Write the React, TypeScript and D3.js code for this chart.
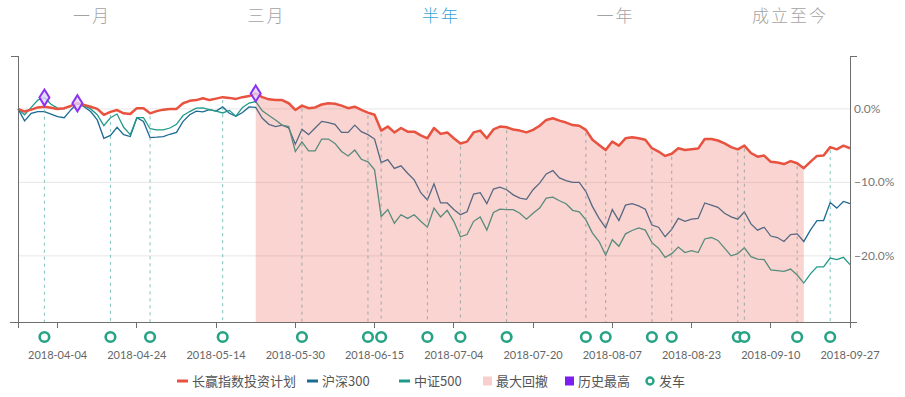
import React, { useRef, useEffect } from "react";
import * as d3 from "d3";

// trading calendar (category axis)
const startDate = "2018-03-27";
const endDate = "2018-09-27";
const holidays = ["2018-04-05", "2018-04-06", "2018-04-30", "2018-05-01", "2018-06-18", "2018-09-24"];

// cumulative return, %
const planValues = [
  0, -0.36, -0.1, 0.2, 0.3, 0.15, 0, 0.1, 0.4, 0.77,
  0.55, 0.3, 0, -0.8, -0.4, -0.15, -0.6, -0.7, 0.1, 0.1,
  -0.6, -0.3, -0.1, 0, 0, 0.77, 1.1, 1.2, 1.45, 1.2,
  1.4, 1.6, 1.5, 1.36, 1.6, 1.75, 2.1, 1.6, 1.3, 1.2,
  1.2, 0.77, -0.14, 0.45, 0.1, 0.2, 0.6, 0.77, 0.7, 0.45,
  0.1, 0.3, -0.14, -0.5, -0.8, -2.95, -2.4, -3.2, -2.6, -3.1,
  -3.1, -3.6, -4.0, -2.6, -3.4, -3.2, -4.0, -4.7, -4.45, -3.2,
  -2.95, -4.0, -2.8, -2.4, -2.5, -2.8, -2.95, -3.2, -2.86, -2.3,
  -1.5, -1.27, -1.6, -1.86, -2.2, -2.3, -2.86, -4.2, -4.9, -5.6,
  -4.45, -5.0, -4.0, -3.85, -4.0, -4.2, -5.35, -5.8, -6.4, -6.1,
  -5.35, -5.6, -5.5, -5.4, -4.1, -4.1, -4.3, -4.7, -5.2, -5.5,
  -5.0, -6.0, -6.5, -6.35, -7.2, -7.3, -7.5, -7.1, -7.4, -8.07,
  -7.2, -6.4, -6.35, -5.2, -5.5, -5.0, -5.35,
];

const hs300Values = [
  0, -1.63, -0.6, -0.36, -0.36, -0.7, -1.05, -1.2, -0.14, 0.77,
  0.3, -0.36, -1.5, -4.0, -3.6, -2.5, -3.5, -3.76, -1.2, -1.7,
  -3.9, -3.85, -3.76, -3.45, -3.2, -1.7, -0.8, -0.3, -0.4, -0.1,
  -0.3, 0.27, -0.6, -1.0, -0.5, 0.27, 0.2, -1.27, -2.1, -2.4,
  -2.2, -2.6, -4.8, -2.77, -3.5, -2.6, -1.7, -1.86, -2.1, -3.2,
  -3.2, -2.2, -3.1, -3.5, -4.1, -7.3, -6.9, -8.1, -7.75, -8.75,
  -9.66, -11.4, -12.4, -10.2, -12.8, -12.8, -13.7, -14.4, -14.0, -11.6,
  -11.4, -12.9, -10.9, -10.65, -11.0, -11.7, -12.15, -12.3, -11.0, -10.1,
  -8.85, -8.4, -9.4, -9.75, -10.0, -10.0, -11.25, -13.3, -14.9, -16.2,
  -13.7, -15.2, -13.1, -12.9, -13.2, -13.65, -15.8, -16.1, -17.4, -16.4,
  -14.9, -15.3, -15.0, -14.9, -12.8, -13.1, -13.4, -14.2, -14.7, -15.0,
  -14.0, -15.65, -16.5, -16.1, -17.3, -17.5, -18.05, -17.1, -17.0, -18.05,
  -16.5, -15.2, -15.2, -12.75, -13.5, -12.6, -12.9,
];

const zz500Values = [
  0, -0.8, 0.2, 1.2, 1.55, 0.64, 0.1, 0, 0.45, 0.77,
  0.45, 0, -0.8, -2.27, -1.2, -0.7, -2.5, -3.5, -1.2, -1.2,
  -2.7, -2.86, -2.86, -2.6, -2.1, -0.9, -0.36, 0.1, 0.15, -0.1,
  -0.3, -0.55, -0.2, -1.0, 0.2, 0.8, 1.0, -0.27, -0.9, -1.5,
  -2.2, -2.4, -5.8, -4.5, -5.7, -5.7, -4.1, -4.1, -4.7, -5.8,
  -6.4, -5.6, -6.85, -7.2, -8.3, -14.65, -13.7, -15.55, -14.4, -14.9,
  -14.4, -15.3, -16.1, -13.5, -14.7, -13.8, -15.3, -17.4, -17.1, -15.3,
  -14.7, -16.5, -14.1, -13.65, -13.7, -13.7, -14.2, -15.0, -14.2, -13.5,
  -12.15, -12.0, -12.5, -12.9, -13.8, -14.0, -15.1, -16.9, -18.05, -19.9,
  -17.8, -18.7, -17.0, -16.55, -16.2, -16.5, -18.2, -18.95, -20.2, -19.7,
  -18.8, -19.55, -19.3, -19.55, -17.7, -17.5, -17.9, -18.95, -20.0, -19.7,
  -18.9, -20.1, -20.45, -20.5, -21.9, -22.0, -22.1, -21.8, -22.6, -23.7,
  -22.45, -21.5, -21.5, -20.3, -20.5, -20.2, -21.2,
];

const highIdx = [4, 9, 36]; // 历史最高
const departIdx = [4, 14, 20, 31, 43, 53, 55, 62, 67, 74, 86, 89, 96, 99, 109, 110, 118, 123]; // 发车
const drawdownRange = [36, 119]; // 最大回撤

const tabs = ["一月", "三月", "半年", "一年", "成立至今"];
const activeTab = "半年";
const yTicks = [0, -10, -20];

const legendItems = [
  { name: "长赢指数投资计划", kind: "line", color: "#e8523f" },
  { name: "沪深300", kind: "line", color: "#1d6a93" },
  { name: "中证500", kind: "line", color: "#1f9a8a" },
  { name: "最大回撤", kind: "rect", color: "#f7cfcc" },
  { name: "历史最高", kind: "rect", color: "#7a1ff0" },
  { name: "发车", kind: "circle", color: "#26a385" },
];

function tradingDays() {
  const out: string[] = [];
  const fmt = d3.utcFormat("%Y-%m-%d");
  const days = d3.utcDay.range(new Date(startDate + "T00:00Z"), d3.utcDay.offset(new Date(endDate + "T00:00Z"), 1));
  days.forEach((d) => {
    const wd = d.getUTCDay();
    const s = fmt(d);
    if (wd !== 0 && wd !== 6 && !holidays.includes(s)) out.push(s);
  });
  return out;
}

function App() {
  const ref = useRef<SVGSVGElement>(null);
  const width = 905;
  const height = 397;

  useEffect(() => {
    const svg = d3.select(ref.current);
    svg.selectAll("*").remove();

    const dates = tradingDays();
    const left = 18, right = 850, top = 56, bottom = 322;
    const font = "Lato, 'Noto Sans CJK SC', sans-serif";

    const x = d3.scaleLinear().domain([0, dates.length - 1]).range([left, right]);
    const y = d3.scaleLinear().domain([-29, 7.2]).range([bottom, top]);

    // tabs
    const tabX = d3.scalePoint().domain(tabs).range([92, 790]);
    svg.append("g").selectAll("text").data(tabs).join("text")
      .attr("x", (d) => tabX(d)!)
      .attr("y", 22)
      .attr("text-anchor", "middle")
      .attr("font-family", "'Noto Sans CJK SC', sans-serif")
      .attr("font-size", 17)
      .attr("font-weight", 300)
      .attr("letter-spacing", 2)
      .attr("fill", (d) => (d === activeTab ? "#3aa3d6" : "#a3a3a3"))
      .text((d) => d);

    // grid
    svg.append("g").selectAll("line").data(yTicks).join("line")
      .attr("x1", left).attr("x2", right)
      .attr("y1", (d) => y(d)).attr("y2", (d) => y(d))
      .attr("stroke", "#e6e6e6");

    const line = (vals: number[]) =>
      d3.line<number>().x((_, i) => x(i)).y((d) => y(d))(vals);

    svg.append("path").attr("d", line(hs300Values)).attr("fill", "none")
      .attr("stroke", "#1d6a93").attr("stroke-width", 1.3);
    svg.append("path").attr("d", line(zz500Values)).attr("fill", "none")
      .attr("stroke", "#1f9a8a").attr("stroke-width", 1.3);

    // 发车 dashed drops
    svg.append("g").selectAll("line").data(departIdx).join("line")
      .attr("x1", (i) => x(i)).attr("x2", (i) => x(i))
      .attr("y1", (i) => y(planValues[i]) + 3).attr("y2", bottom)
      .attr("stroke", "#5fb5ae").attr("stroke-width", 1)
      .attr("stroke-dasharray", "3,4").attr("opacity", 0.8);

    // 最大回撤 area
    const ddIdx = d3.range(drawdownRange[0], drawdownRange[1] + 1);
    const area = d3.area<number>().x((i) => x(i)).y0(bottom).y1((i) => y(planValues[i]));
    svg.append("path").attr("d", area(ddIdx)).attr("fill", "rgb(236,100,90)").attr("opacity", 0.28);

    svg.append("path").attr("d", line(planValues)).attr("fill", "none")
      .attr("stroke", "#e8523f").attr("stroke-width", 2.5).attr("stroke-linejoin", "round");

    // axes
    const ax = svg.append("g").attr("stroke", "#6e6e6e").attr("stroke-width", 1).attr("shape-rendering", "crispEdges");
    ax.append("line").attr("x1", left).attr("x2", left).attr("y1", top).attr("y2", bottom + 6);
    ax.append("line").attr("x1", left - 7).attr("x2", left).attr("y1", top).attr("y2", top);
    ax.append("line").attr("x1", right).attr("x2", right).attr("y1", top).attr("y2", bottom + 6);
    ax.append("line").attr("x1", right).attr("x2", right + 7).attr("y1", top).attr("y2", top);
    ax.append("line").attr("x1", 10).attr("x2", right + 7).attr("y1", bottom).attr("y2", bottom);

    const labelIdx = d3.range(6, dates.length, 12);
    ax.selectAll("line.tick").data(labelIdx).join("line")
      .attr("class", "tick")
      .attr("x1", (i) => x(i)).attr("x2", (i) => x(i))
      .attr("y1", bottom).attr("y2", bottom + 6);

    svg.append("g").selectAll("text").data(labelIdx).join("text")
      .attr("x", (i) => x(i)).attr("y", 359)
      .attr("text-anchor", "middle")
      .attr("font-family", font).attr("font-size", 11)
      .attr("fill", "#666")
      .text((i) => dates[i]);

    svg.append("g").selectAll("text").data(yTicks).join("text")
      .attr("x", right + 4).attr("y", (d) => y(d) + 4)
      .attr("font-family", font).attr("font-size", 12)
      .attr("fill", "#777")
      .text((d) => d3.format(".1f")(d) + "%");

    // 历史最高 diamonds
    svg.append("g").selectAll("path").data(highIdx).join("path")
      .attr("transform", (i) => `translate(${x(i)},${y(Math.max(planValues[i], hs300Values[i], zz500Values[i]))})`)
      .attr("d", "M0,-8L5,0L0,8L-5,0Z")
      .attr("fill", "#e3d2fb").attr("fill-opacity", 0.8)
      .attr("stroke", "#8a33f0").attr("stroke-width", 2);

    // 发车 circles
    svg.append("g").selectAll("circle").data(departIdx).join("circle")
      .attr("cx", (i) => x(i)).attr("cy", 337).attr("r", 4.8)
      .attr("fill", "#fff").attr("stroke", "#26a385").attr("stroke-width", 2.6);

    // legend
    const lg = svg.append("g").attr("transform", "translate(0,381)");
    const legendX = [177, 307, 399, 481, 563, 644];
    legendItems.forEach((it, k) => {
      const g = lg.append("g").attr("transform", `translate(${legendX[k]},0)`);
      if (it.kind === "line") {
        g.append("rect").attr("x", 0).attr("y", -1.5).attr("width", 11).attr("height", 3).attr("fill", it.color);
      } else if (it.kind === "rect") {
        g.append("rect").attr("x", 2).attr("y", -4.5).attr("width", 9).attr("height", 9).attr("fill", it.color);
      } else {
        g.append("circle").attr("cx", 6).attr("cy", 0).attr("r", 3.5)
          .attr("fill", "#fff").attr("stroke", it.color).attr("stroke-width", 2.4);
      }
      g.append("text").attr("x", 15).attr("y", 4.5)
        .attr("font-family", "'Noto Sans CJK SC', sans-serif").attr("font-size", 13)
        .attr("fill", "#555").text(it.name);
    });
  }, []);

  return (
    <svg ref={ref} width={width} height={height}
      style={{ position: "absolute", left: 0, top: 0, background: "#fff" }} />
  );
}

export default App;
